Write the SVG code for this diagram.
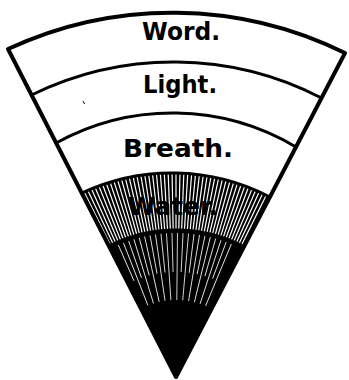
<svg xmlns="http://www.w3.org/2000/svg" xmlns:xlink="http://www.w3.org/1999/xlink" width="349" height="380" viewBox="0 0 349 380">
<style>
.edge{fill:none;stroke:#000;stroke-width:4;stroke-linejoin:round;stroke-linecap:round}
.div{fill:none;stroke:#000;stroke-width:3;stroke-linecap:round}
.lbl{font-family:"DejaVu Sans","Liberation Sans",sans-serif;font-weight:bold;font-size:24px;fill:#000;text-anchor:middle}
.wu{stroke:#fff;stroke-width:1.2}
.wl{stroke:#fff;stroke-width:0.8}
</style>
<defs>
<clipPath id="hc"><path d="M81.8,193 A212,212 0 0 1 269.9,197 L176,377 Z"/></clipPath>
<line id="u" x1="176" y1="230" x2="176" y2="160"/>
<line id="l" x1="176" y1="300" x2="176" y2="233"/>
<line id="m" x1="176" y1="272" x2="176" y2="233"/>
</defs>
<rect width="349" height="380" fill="#fff"/>
<g id="hatch">
<path d="M81.8,193 A212,212 0 0 1 269.9,197 L176,377 Z" fill="#000"/>
<g clip-path="url(#hc)">
<g class="wu">
<use href="#u" transform="rotate(-26.4 176 377)"/><use href="#u" transform="rotate(-25.3 176 377)"/><use href="#u" transform="rotate(-24.2 176 377)"/><use href="#u" transform="rotate(-23.1 176 377)"/><use href="#u" transform="rotate(-22 176 377)"/><use href="#u" transform="rotate(-20.9 176 377)"/><use href="#u" transform="rotate(-19.8 176 377)"/><use href="#u" transform="rotate(-18.7 176 377)"/><use href="#u" transform="rotate(-17.6 176 377)"/><use href="#u" transform="rotate(-16.5 176 377)"/><use href="#u" transform="rotate(-15.4 176 377)"/><use href="#u" transform="rotate(-14.3 176 377)"/><use href="#u" transform="rotate(-13.2 176 377)"/><use href="#u" transform="rotate(-12.1 176 377)"/><use href="#u" transform="rotate(-11 176 377)"/><use href="#u" transform="rotate(-9.9 176 377)"/><use href="#u" transform="rotate(-8.8 176 377)"/><use href="#u" transform="rotate(-7.7 176 377)"/><use href="#u" transform="rotate(-6.6 176 377)"/><use href="#u" transform="rotate(-5.5 176 377)"/><use href="#u" transform="rotate(-4.4 176 377)"/><use href="#u" transform="rotate(-3.3 176 377)"/><use href="#u" transform="rotate(-2.2 176 377)"/><use href="#u" transform="rotate(-1.1 176 377)"/><use href="#u"/><use href="#u" transform="rotate(1.1 176 377)"/><use href="#u" transform="rotate(2.2 176 377)"/><use href="#u" transform="rotate(3.3 176 377)"/><use href="#u" transform="rotate(4.4 176 377)"/><use href="#u" transform="rotate(5.5 176 377)"/><use href="#u" transform="rotate(6.6 176 377)"/><use href="#u" transform="rotate(7.7 176 377)"/><use href="#u" transform="rotate(8.8 176 377)"/><use href="#u" transform="rotate(9.9 176 377)"/><use href="#u" transform="rotate(11 176 377)"/><use href="#u" transform="rotate(12.1 176 377)"/><use href="#u" transform="rotate(13.2 176 377)"/><use href="#u" transform="rotate(14.3 176 377)"/><use href="#u" transform="rotate(15.4 176 377)"/><use href="#u" transform="rotate(16.5 176 377)"/><use href="#u" transform="rotate(17.6 176 377)"/><use href="#u" transform="rotate(18.7 176 377)"/><use href="#u" transform="rotate(19.8 176 377)"/><use href="#u" transform="rotate(20.9 176 377)"/><use href="#u" transform="rotate(22 176 377)"/><use href="#u" transform="rotate(23.1 176 377)"/><use href="#u" transform="rotate(24.2 176 377)"/><use href="#u" transform="rotate(25.3 176 377)"/><use href="#u" transform="rotate(26.4 176 377)"/>
</g>
<g class="wl">
<use href="#m" transform="rotate(-23.6 176 377)"/><use href="#l" transform="rotate(-21.4 176 377)"/><use href="#m" transform="rotate(-19.2 176 377)"/><use href="#l" transform="rotate(-17 176 377)"/><use href="#m" transform="rotate(-14.8 176 377)"/><use href="#l" transform="rotate(-12.6 176 377)"/><use href="#m" transform="rotate(-10.4 176 377)"/><use href="#l" transform="rotate(-8.2 176 377)"/><use href="#m" transform="rotate(-6 176 377)"/><use href="#l" transform="rotate(-3.8 176 377)"/><use href="#m" transform="rotate(-1.6 176 377)"/><use href="#l" transform="rotate(0.6 176 377)"/><use href="#m" transform="rotate(2.8 176 377)"/><use href="#l" transform="rotate(5 176 377)"/><use href="#m" transform="rotate(7.2 176 377)"/><use href="#l" transform="rotate(9.4 176 377)"/><use href="#m" transform="rotate(11.6 176 377)"/><use href="#l" transform="rotate(13.8 176 377)"/><use href="#m" transform="rotate(16 176 377)"/><use href="#l" transform="rotate(18.2 176 377)"/><use href="#m" transform="rotate(20.4 176 377)"/><use href="#l" transform="rotate(22.6 176 377)"/>
</g>
<path class="div" d="M109,246.2 A147,147 0 0 1 244,246.7" stroke-width="2"/>
</g>
</g>
<g id="outline">
<path class="edge" d="M8,49 A390,390 0 0 1 345,53 L176,377 Z"/>
</g>
<g id="dividers">
<path class="div" d="M31.6,95 A322,322 0 0 1 321.5,98"/>
<path class="div" d="M56.1,143 A241,241 0 0 1 296,147"/>
<path class="div" d="M81.8,193 A212,212 0 0 1 269.9,197"/>
</g>
<g id="word"><text class="lbl" x="181" y="40" textLength="78" lengthAdjust="spacingAndGlyphs">Word.</text></g>
<g id="light"><text class="lbl" x="180" y="93" textLength="74" lengthAdjust="spacingAndGlyphs">Light.</text></g>
<g id="breath"><text class="lbl" x="178" y="157" textLength="110" lengthAdjust="spacingAndGlyphs">Breath.</text></g>
<g id="water"><text class="lbl" x="173" y="215" textLength="90" lengthAdjust="spacingAndGlyphs">Water.</text></g>
<path d="M83,101 L84.5,104" stroke="#000" stroke-width="1" fill="none"/>
</svg>
